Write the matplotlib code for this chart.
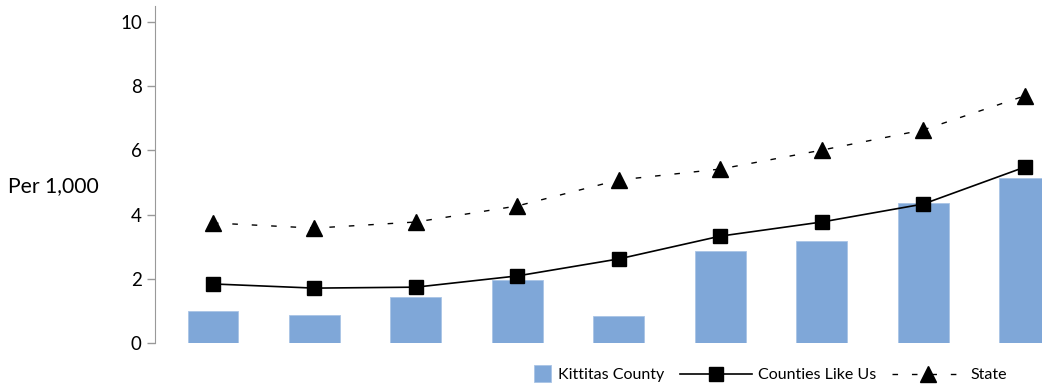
import numpy as np
import matplotlib.pyplot as plt
from matplotlib.patches import Rectangle
from matplotlib.legend_handler import HandlerPatch

plt.rcParams['font.family'] = ['Lato', 'DejaVu Sans']

# values (per 1,000)
groups = np.arange(9)
kittitas = [1.00, 0.87, 1.43, 1.96, 0.84, 2.87, 3.18, 4.36, 5.14]
counties_like_us = [1.84, 1.71, 1.74, 2.09, 2.62, 3.33, 3.77, 4.33, 5.48]
state = [3.74, 3.58, 3.77, 4.27, 5.08, 5.42, 6.01, 6.64, 7.70]
yticks = [0, 2, 4, 6, 8, 10]

fig = plt.figure(figsize=(10.42, 3.86), dpi=100)
ax = fig.add_axes([0.1488, 0.1114, 0.8512, 0.873])

bars = ax.bar(groups, kittitas, width=0.5, color='#7FA7D8', edgecolor='#A9C4E6',
              linewidth=0.6, label='Kittitas County', zorder=2)
line1, = ax.plot(groups, counties_like_us, color='black', linewidth=1.2, marker='s',
                 markersize=10, label='Counties Like Us', zorder=3)
line2, = ax.plot(groups, state, color='black', linewidth=1.0, linestyle=(0, (4, 10)),
                 marker='^', markersize=11, label='State', zorder=3)

ax.set_xlim(-0.57, 8.17)
ax.set_ylim(0, 10.5)
ax.set_yticks(yticks)
ax.set_xticks([])

for side in ['top', 'right', 'bottom']:
    ax.spines[side].set_visible(False)
ax.spines['left'].set_color('#999999')
ax.tick_params(axis='y', colors='#999999', labelcolor='black', labelsize=13.5,
               length=6, width=1)

fig.text(0.008, 0.518, 'Per 1,000', fontsize=15.2, va='center', ha='left')


# small square swatch at the right end of the handle box, like the original
def square_patch(legend, orig_handle, xdescent, ydescent, width, height, fontsize):
    s = 1.1 * fontsize
    return Rectangle((width - s - xdescent, (height - s) / 2 - ydescent), s, s)


bar_handle = bars[0]
ax.legend([bar_handle, line1, line2], ['Kittitas County', 'Counties Like Us', 'State'],
          loc='center right', bbox_to_anchor=(0.977, -0.095), ncol=3, frameon=False,
          fontsize=11.5, handlelength=4.5, columnspacing=1.0, handletextpad=0.4,
          handler_map={bar_handle: HandlerPatch(patch_func=square_patch)})

fig.savefig('out.png', dpi=100)
